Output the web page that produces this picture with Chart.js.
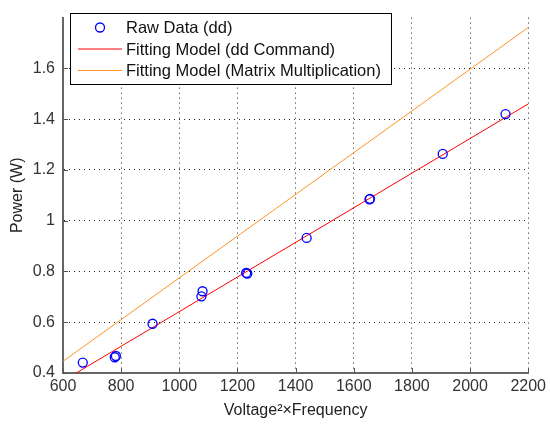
<!DOCTYPE html>
<html>
<head>
<meta charset="utf-8">
<script src="https://cdn.jsdelivr.net/npm/chart.js@4"></script>
<style>
  html, body { margin: 0; padding: 0; background: #fff; }
</style>
</head>
<body>
<canvas id="chart" width="550" height="428"></canvas>
<script>
// Data
const rawX = [668, 778, 782, 908, 1076, 1080, 1230, 1234, 1438, 1654, 1656, 1906, 2122];
const rawY = [0.441, 0.462, 0.467, 0.594, 0.702, 0.722, 0.794, 0.792, 0.932, 1.084, 1.086, 1.263, 1.420];
const ddFitX = [600, 2200];
const ddFitY = [0.369, 1.460];
const matFitX = [600, 2200];
const matFitY = [0.446, 1.761];
const xTicks = [600, 800, 1000, 1200, 1400, 1600, 1800, 2000, 2200];
const yTicks = [0.4, 0.6, 0.8, 1, 1.2, 1.4, 1.6];
const seriesNames = ["Raw Data (dd)", "Fitting Model (dd Command)", "Fitting Model (Matrix Multiplication)"];

const FONT = "'Liberation Sans', Arial, sans-serif";

function toPoints(xs, ys) {
  return xs.map((x, i) => ({ x: x, y: ys[i] }));
}

// small inward tick marks, like the original axes
const innerTicks = {
  id: "innerTicks",
  afterDraw(chart) {
    const ctx = chart.ctx;
    const xs = chart.scales.x, ys = chart.scales.y;
    const a = chart.chartArea;
    ctx.save();
    ctx.strokeStyle = "#555";
    ctx.lineWidth = 1;
    ctx.beginPath();
    xTicks.forEach(v => {
      const px = Math.round(xs.getPixelForValue(v)) + 0.5;
      ctx.moveTo(px, a.bottom);
      ctx.lineTo(px, a.bottom - 5);
    });
    yTicks.forEach(v => {
      const py = Math.round(ys.getPixelForValue(v)) + 0.5;
      ctx.moveTo(a.left, py);
      ctx.lineTo(a.left + 5, py);
    });
    ctx.stroke();
    ctx.restore();
  }
};

// legend box drawn inside the plot, top left
const boxLegend = {
  id: "boxLegend",
  afterDraw(chart) {
    const ctx = chart.ctx;
    const sets = chart.data.datasets;
    ctx.save();
    ctx.fillStyle = "#fff";
    ctx.fillRect(70.5, 13.5, 321, 71);
    ctx.strokeStyle = "#000";
    ctx.lineWidth = 1;
    ctx.strokeRect(70.5, 13.5, 321, 71);
    const rows = [27.5, 49, 70.5];
    ctx.font = "16.5px " + FONT;
    ctx.textBaseline = "middle";
    sets.forEach((ds, i) => {
      const y = rows[i];
      ctx.strokeStyle = ds.borderColor;
      ctx.lineWidth = ds.borderWidth;
      ctx.beginPath();
      if (ds.showLine) {
        ctx.moveTo(78, y);
        ctx.lineTo(122, y);
      } else {
        ctx.arc(100, y, ds.pointRadius, 0, Math.PI * 2);
      }
      ctx.stroke();
      ctx.fillStyle = "#111";
      ctx.fillText(ds.label, 126, y + 1);
    });
    ctx.restore();
  }
};

const ctx = document.getElementById("chart").getContext("2d");

new Chart(ctx, {
  type: "scatter",
  data: {
    datasets: [{
      label: seriesNames[0],
      data: toPoints(rawX, rawY),
      showLine: false,
      pointStyle: "circle",
      pointRadius: 4.5,
      borderColor: "#0000ff",
      backgroundColor: "rgba(0,0,0,0)",
      borderWidth: 1.3,
      order: 0,
    }, {
      label: seriesNames[1],
      data: toPoints(ddFitX, ddFitY),
      showLine: true,
      pointRadius: 0,
      borderColor: "#ff0000",
      borderWidth: 1,
      fill: false,
      order: 1,
    }, {
      label: seriesNames[2],
      data: toPoints(matFitX, matFitY),
      showLine: true,
      pointRadius: 0,
      borderColor: "#ff9326",
      borderWidth: 1,
      fill: false,
      order: 2,
    }],
  },
  options: {
    responsive: false,
    animation: false,
    layout: { padding: { top: 5, right: 20, left: 0, bottom: 0 } },
    plugins: {
      legend: { display: false },
      tooltip: { enabled: false },
    },
    scales: {
      x: {
        type: "linear",
        min: 600,
        max: 2200,
        afterBuildTicks: s => { s.ticks = xTicks.map(v => ({ value: v })); },
        afterFit: s => { s.height = 55; },
        ticks: {
          font: { family: FONT, size: 16 },
          color: "#333",
          padding: 4,
          maxRotation: 0,
          autoSkip: false,
          callback: v => String(v),
        },
        grid: { color: "#222", lineWidth: 1, drawTicks: false },
        border: { color: "#666", width: 2, dash: [1, 4] },
        title: {
          display: true,
          text: "Voltage\u00B2\u00D7Frequency",
          font: { family: FONT, size: 16 },
          color: "#222",
          padding: { top: 0, bottom: 8 },
        },
      },
      y: {
        type: "linear",
        min: 0.4,
        max: 1.8,
        afterBuildTicks: s => { s.ticks = yTicks.map(v => ({ value: v })); },
        afterFit: s => { s.width = 63; },
        ticks: {
          font: { family: FONT, size: 16 },
          color: "#333",
          padding: 8,
          callback: v => String(+v.toFixed(2)),
        },
        grid: { color: "#222", lineWidth: 1, drawTicks: false },
        border: { color: "#666", width: 2, dash: [1, 4] },
        title: {
          display: true,
          text: "Power (W)",
          font: { family: FONT, size: 16 },
          color: "#222",
          padding: { top: 8, bottom: 0 },
        },
      },
    },
  },
  plugins: [innerTicks, boxLegend],
});
</script>
</body>
</html>
